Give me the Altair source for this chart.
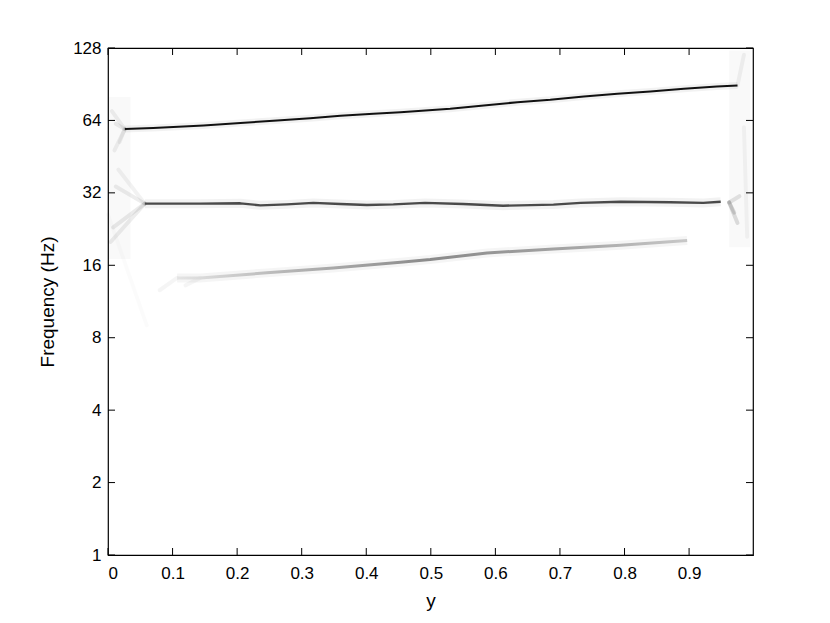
import altair as alt
import pandas as pd

# ---- data ----
x_ticks = [0, 0.1, 0.2, 0.3, 0.4, 0.5, 0.6, 0.7, 0.8, 0.9]
y_ticks = [1, 2, 4, 8, 16, 32, 64, 128]

top_t = [0.026, 0.070, 0.148, 0.205, 0.262, 0.313, 0.360, 0.411, 0.453, 0.530,
         0.582, 0.634, 0.685, 0.737, 0.789, 0.840, 0.892, 0.943, 0.975]
top_f = [58.9, 59.5, 60.9, 62.4, 64.0, 65.3, 66.9, 68.2, 69.2, 71.6,
         73.8, 76.2, 78.0, 80.5, 82.6, 84.5, 86.7, 88.6, 89.5]

mid_t = [0.057, 0.143, 0.205, 0.236, 0.277, 0.318, 0.360, 0.401, 0.442, 0.491,
         0.550, 0.612, 0.690, 0.732, 0.794, 0.871, 0.922, 0.949]
mid_f = [28.86, 28.86, 28.95, 28.4, 28.66, 29.07, 28.76, 28.5, 28.66, 29.07,
         28.76, 28.3, 28.6, 29.07, 29.37, 29.25, 29.07, 29.37]

low_t = [0.107, 0.143, 0.246, 0.349, 0.453, 0.499, 0.587, 0.690, 0.794, 0.897]
low_f = [14.18, 14.18, 14.88, 15.6, 16.46, 16.9, 18.0, 18.7, 19.4, 20.3]

# faint fan-shaped spread at the left and right edges (start t, start f, end t, end f)
fan_t0 = [0.004, 0.008, 0.012, 0.016, 0.010, 0.006, 0.012, 0.018, 0.000, 0.962, 0.962, 0.962, 0.975, 0.985]
fan_f0 = [20.0, 23.0, 34.0, 40.0, 48.0, 70.0, 62.0, 52.0, 26.0, 29.2, 29.2, 29.2, 89.5, 60.0]
fan_t1 = [0.057, 0.057, 0.057, 0.057, 0.026, 0.026, 0.026, 0.026, 0.060, 0.975, 0.978, 0.970, 0.985, 0.990]
fan_f1 = [28.86, 28.86, 28.86, 28.86, 58.9, 58.9, 58.9, 58.9, 9.0, 24.0, 31.0, 26.5, 120.0, 21.0]
fan_i = [0.07, 0.08, 0.07, 0.05, 0.06, 0.06, 0.07, 0.05, 0.015, 0.12, 0.10, 0.12, 0.05, 0.04]

# faint noise bands at both edges
band_t0 = [0.000, 0.962]
band_t1 = [0.035, 0.995]
band_f0 = [17.0, 19.0]
band_f1 = [80.0, 125.0]
band_i = [0.025, 0.025]

# faint tail below the start of the lowest ridge
tail_t0 = [0.080, 0.120]
tail_f0 = [12.6, 13.2]
tail_t1 = [0.107, 0.143]
tail_f1 = [14.18, 14.18]
tail_i = [0.04, 0.04]

top_df = pd.DataFrame(dict(t=top_t, f=top_f))
mid_df = pd.DataFrame(dict(t=mid_t, f=mid_f))
low_df = pd.DataFrame(dict(t=low_t, f=low_f))
fan_df = pd.DataFrame(dict(t=fan_t0 + tail_t0, f=fan_f0 + tail_f0, t2=fan_t1 + tail_t1,
                           f2=fan_f1 + tail_f1, op=fan_i + tail_i))
band_df = pd.DataFrame(dict(t=band_t0, t2=band_t1, f=band_f0, f2=band_f1, op=band_i))
xt_df = pd.DataFrame(dict(t=x_ticks))
yt_df = pd.DataFrame(dict(f=y_ticks))

W, H = 645, 507
FONT = "Liberation Sans"

xscale = alt.Scale(domain=[0, 0.999], nice=False, zero=False)
yscale = alt.Scale(type="log", base=2, domain=[1, 128], nice=False)

xaxis = alt.Axis(values=x_ticks, title="y", tickSize=0, grid=False, domain=False,
                 labelExpr="datum.value == 0 ? '0' : format(datum.value, '.1f')",
                 labelFont=FONT, labelFontSize=17, labelColor="black", labelPadding=10,
                 titleFont=FONT, titleFontSize=19, titleFontWeight="normal",
                 titleColor="black", titlePadding=10)
yaxis = alt.Axis(values=y_ticks, title="Frequency (Hz)", tickSize=0, grid=False, domain=False,
                 format="d", labelFont=FONT, labelFontSize=17, labelColor="black",
                 labelPadding=7, titleFont=FONT, titleFontSize=19, titleFontWeight="normal",
                 titleColor="black", titlePadding=15)

X = alt.X("t:Q", scale=xscale, axis=xaxis)
Y = alt.Y("f:Q", scale=yscale, axis=yaxis)

bands = alt.Chart(band_df).mark_rect(color="black").encode(
    x=X, x2="t2:Q", y=Y, y2="f2:Q", opacity=alt.Opacity("op:Q", scale=None))

fans = alt.Chart(fan_df).mark_rule(color="black", strokeWidth=4, strokeCap="round").encode(
    x=X, x2="t2:Q", y=Y, y2="f2:Q", opacity=alt.Opacity("op:Q", scale=None))


def ridge(df, color, width, halo_w, halo_op):
    halo = alt.Chart(df).mark_line(color="black", strokeWidth=halo_w, opacity=halo_op,
                                   strokeJoin="round").encode(x=X, y=Y, order="t:Q")
    line = alt.Chart(df).mark_line(stroke=color, strokeWidth=width,
                                   strokeJoin="round").encode(x=X, y=Y, order="t:Q")
    return halo, line


low_grad = alt.Gradient(gradient="linear", x1=0, x2=1, y1=0, y2=0, stops=[
    alt.GradientStop(offset=0, color="#e4e4e4"),
    alt.GradientStop(offset=0.2, color="#b8b8b8"),
    alt.GradientStop(offset=0.5, color="#8a8a8a"),
    alt.GradientStop(offset=0.8, color="#a8a8a8"),
    alt.GradientStop(offset=1, color="#c8c8c8"),
])

top_h, top_l = ridge(top_df, "#111111", 2.0, 7, 0.05)
mid_h, mid_l = ridge(mid_df, "#4a4a4a", 2.4, 9, 0.05)
low_h, low_l = ridge(low_df, low_grad, 3.0, 9, 0.04)

tick_b = alt.Chart(xt_df).mark_rule(color="black", strokeWidth=1).encode(
    x=X, y=alt.value(H), y2=alt.value(H - 7))
tick_t = alt.Chart(xt_df).mark_rule(color="black", strokeWidth=1).encode(
    x=X, y=alt.value(0), y2=alt.value(7))
tick_l = alt.Chart(yt_df).mark_rule(color="black", strokeWidth=1).encode(
    y=Y, x=alt.value(0), x2=alt.value(7))
tick_r = alt.Chart(yt_df).mark_rule(color="black", strokeWidth=1).encode(
    y=Y, x=alt.value(W), x2=alt.value(W - 7))

chart = alt.layer(bands, fans, top_h, mid_h, low_h, low_l, mid_l, top_l,
                  tick_b, tick_t, tick_l, tick_r).properties(
    width=W, height=H,
    autosize=alt.AutoSizeParams(type="none"),
    padding={"left": 100, "top": 40, "right": 69, "bottom": 68},
    background="white",
).configure_view(stroke="black", strokeWidth=1.2)

chart.save("out.html", embed_options={"renderer": "svg", "actions": False})
